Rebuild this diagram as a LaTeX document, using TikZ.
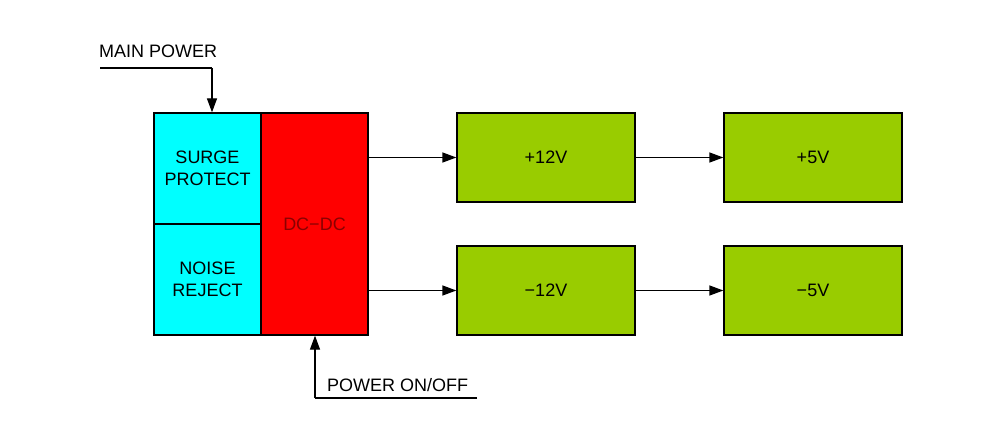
\documentclass[tikz,border=0pt]{standalone}
\usepackage{fontspec}
\setmainfont{Liberation Sans}
\usetikzlibrary{arrows.meta}
\definecolor{cyanbox}{HTML}{00FFFF}
\definecolor{redbox}{HTML}{FF0000}
\definecolor{greenbox}{HTML}{99CC00}
\definecolor{dctext}{HTML}{8A0000}
\tikzset{
  blk/.style={draw=black, line width=1.3pt, inner sep=0pt, align=center,
    font=\fontsize{18}{22}\selectfont},
  cyanblk/.style={blk, fill=cyanbox, minimum width=107pt, minimum height=111pt},
  redblk/.style={blk, fill=redbox, minimum width=107pt, minimum height=222pt, text=dctext},
  greenblk/.style={blk, fill=greenbox, minimum width=178pt, minimum height=89pt},
  arr/.style={line width=1.3pt, -{Triangle[length=14pt,width=10pt]}},
  wire/.style={line width=1.3pt},
  lbl/.style={inner sep=0pt, anchor=base west, font=\fontsize{18}{22}\selectfont}
}
\begin{document}
\begin{tikzpicture}[x=1pt,y=-1pt]
\useasboundingbox[fill=white] (0,0) rectangle (1001,433);
\node[cyanblk] (surge) at (207.5,168.5) {SURGE\\PROTECT};
\node[cyanblk] (noise) at (207.5,279.5) {NOISE\\REJECT};
\node[redblk] (dc) at (314.5,224) {DC−DC};
\node[greenblk] (p12) at (546,157.5) {+12V};
\node[greenblk] (m12) at (546,290.5) {−12V};
\node[greenblk] (p5) at (813,157.5) {+5V};
\node[greenblk] (m5) at (813,290.5) {−5V};
% main power
\node[lbl] (mainlbl) at (99,58) {MAIN POWER};
\coordinate (mpa) at (100,68);
\coordinate (mpb) at (212,68);
\draw[wire] (mpa) -- (mpb);
\draw[arr] (mpb) -- (mpb |- surge.north);
% power on/off
\node[lbl] (onofflbl) at (327,391) {POWER ON/OFF};
\coordinate (poa) at (477,398);
\coordinate (pob) at (315,398);
\draw[wire] (poa) -- (pob);
\draw[arr] (pob) -- (pob |- dc.south);
% arrows
\draw[arr] (p12.west -| dc.east) -- (p12.west);
\draw[arr] (m12.west -| dc.east) -- (m12.west);
\draw[arr] (p12.east) -- (p5.west);
\draw[arr] (m12.east) -- (m5.west);
\end{tikzpicture}
\end{document}
